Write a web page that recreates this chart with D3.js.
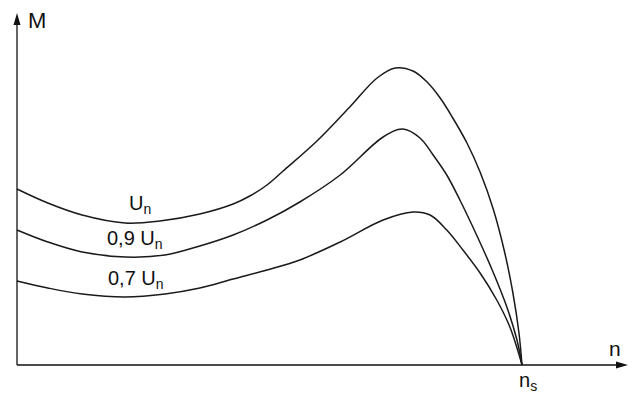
<!DOCTYPE html>
<html lang="de">
<head>
    <meta charset="UTF-8">
    <script src="https://d3js.org/d3.v7.min.js"></script>
    <style>
        body { margin: 0; background: #fff; }
        text { font-family: "Liberation Sans", Arial, sans-serif; fill: #111; }
        .curve { fill: none; stroke: #1a1a1a; stroke-width: 1.5px; }
        .axis { stroke: #111; stroke-width: 1.3px; }
    </style>
</head>
<body>
    <svg id="chart"></svg>
    <script>
        // n / n_s  ->  M (relative units)
        const nUn  = [0, 0.061, 0.129, 0.214, 0.283, 0.362, 0.428, 0.461, 0.495, 0.527, 0.594, 0.659, 0.713, 0.749, 0.784, 0.812, 0.838, 0.863, 0.891, 0.917, 0.943, 0.966, 0.982, 0.994, 1];
        const mUn  = [1.76, 1.62, 1.50, 1.42, 1.44, 1.51, 1.61, 1.69, 1.80, 1.94, 2.24, 2.58, 2.87, 2.97, 2.94, 2.83, 2.67, 2.47, 2.22, 1.93, 1.56, 1.12, 0.72, 0.32, 0];

        const n09  = [0, 0.061, 0.129, 0.214, 0.293, 0.362, 0.428, 0.495, 0.560, 0.640, 0.725, 0.764, 0.798, 0.824, 0.851, 0.877, 0.911, 0.941, 0.970, 0.990, 1];
        const m09  = [1.35, 1.23, 1.13, 1.08, 1.10, 1.19, 1.30, 1.45, 1.63, 1.90, 2.28, 2.36, 2.27, 2.10, 1.90, 1.65, 1.29, 0.95, 0.58, 0.25, 0];

        const n07  = [0, 0.061, 0.129, 0.214, 0.293, 0.362, 0.428, 0.495, 0.560, 0.640, 0.725, 0.784, 0.818, 0.851, 0.883, 0.917, 0.950, 0.976, 1];
        const m07  = [0.84, 0.77, 0.71, 0.68, 0.71, 0.77, 0.86, 0.95, 1.05, 1.23, 1.45, 1.53, 1.50, 1.35, 1.15, 0.92, 0.65, 0.38, 0];

        const labelMain = ["", "0,9 ", "0,7 "];

        const width = 638, height = 396;
        const svg = d3.select("#chart").attr("width", width).attr("height", height);

        const x = d3.scaleLinear().domain([0, 1]).range([17, 522]);
        const y = d3.scaleLinear().domain([0, 3.52]).range([365, 13]);

        // axes with arrows
        svg.append("line").attr("class", "axis")
            .attr("x1", x(0)).attr("y1", y(0)).attr("x2", x(0)).attr("y2", y(3.52) + 8);
        svg.append("path")
            .attr("d", `M${x(0)},${y(3.52)} l-3.5,12 l7,0 z`).attr("fill", "#111");

        const xEnd = 628;
        svg.append("line").attr("class", "axis")
            .attr("x1", x(0)).attr("y1", y(0)).attr("x2", xEnd - 8).attr("y2", y(0));
        svg.append("path")
            .attr("d", `M${xEnd},${y(0)} l-12,-3.5 l0,7 z`).attr("fill", "#111");

        svg.append("text").attr("x", 28).attr("y", 28)
            .attr("font-size", 22).text("M");
        svg.append("text").attr("x", 609).attr("y", 356)
            .attr("font-size", 21).text("n");

        const ns = svg.append("text").attr("x", x(1) - 3).attr("y", 387).attr("font-size", 20);
        ns.append("tspan").text("n");
        ns.append("tspan").attr("font-size", 14).attr("dy", 4).text("s");

        const line = d3.line()
            .x(d => x(d[0]))
            .y(d => y(d[1]))
            .curve(d3.curveCatmullRom.alpha(0.5));

        const series = [
            d3.zip(nUn, mUn),
            d3.zip(n09, m09),
            d3.zip(n07, m07)
        ];

        svg.selectAll(".curve")
            .data(series)
            .enter().append("path")
            .attr("class", "curve")
            .attr("d", line);

        // curve labels
        const labelPos = [[129, 210], [107, 245], [108, 285]];
        labelMain.forEach((t, i) => {
            const lab = svg.append("text")
                .attr("x", labelPos[i][0]).attr("y", labelPos[i][1])
                .attr("font-size", 20);
            lab.append("tspan").text(t + "U");
            lab.append("tspan").attr("font-size", 14).attr("dy", 4).text("n");
        });
    </script>
</body>
</html>
